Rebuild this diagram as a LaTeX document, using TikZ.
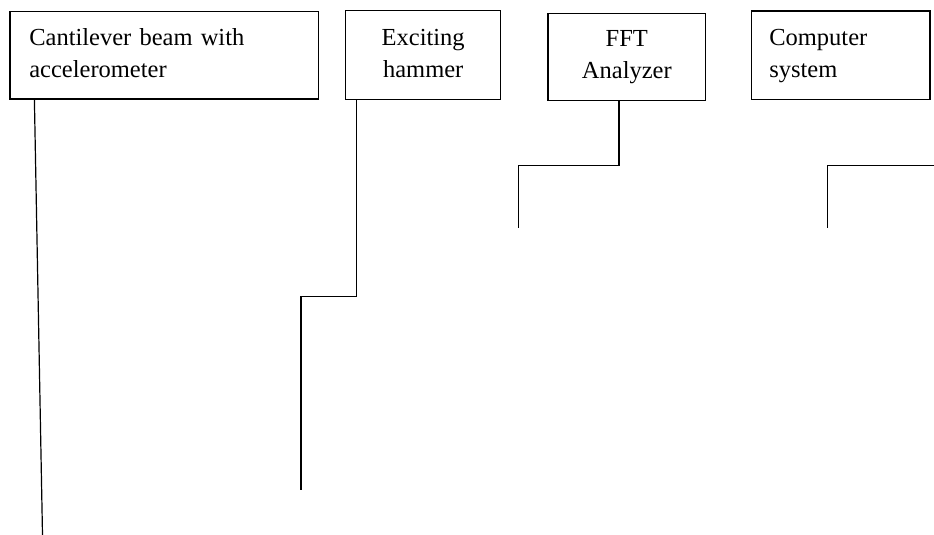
\documentclass[tikz,border=0pt]{standalone}
\usepackage{fontspec}
\setmainfont{Liberation Serif}
\newcommand\eqstrut{\vphantom{hy}}
\begin{document}
\begin{tikzpicture}[x=1pt,y=-1pt,
  boxnode/.style={draw=black,line width=1.2pt,inner ysep=0pt,
    font=\fontsize{24.5}{32}\selectfont},
  wire/.style={draw=black,line width=1.2pt}]
\useasboundingbox (0,0) rectangle (934,535);
\node[boxnode,minimum width=308.3pt,minimum height=87.3pt,inner xsep=19.3pt,
  text width=269.7pt,align=left] (b1) at (164.15,55.35)
  {\eqstrut Cantilever beam with\\\eqstrut accelerometer};
\node[boxnode,minimum width=155pt,minimum height=89pt,align=center] (b2) at (423.2,55.2)
  {\eqstrut Exciting\\\eqstrut hammer};
\node[boxnode,minimum width=157.7pt,minimum height=87.4pt,align=center] (b3) at (626.85,57)
  {\eqstrut FFT\\\eqstrut Analyzer};
\node[boxnode,minimum width=178.3pt,minimum height=88.3pt,inner xsep=17.6pt,
  text width=143.1pt,align=left] (b4) at (840.85,55.15)
  {\eqstrut Computer\\\eqstrut system};
\coordinate (e1) at (42.5,535);
\coordinate (e2) at (301,490);
\coordinate (e3) at (518.3,228);
\coordinate (s4) at (934,165.5);
\coordinate (e4) at (827.7,228);
\draw[wire] ([xshift=25pt]b1.south west) -- (e1);
\draw[wire] ([xshift=11.3pt]b2.south west) |- (e2 |- 0,296.7) -- (e2);
\draw[wire] ([xshift=71.5pt]b3.south west) |- (e3 |- 0,165.5) -- (e3);
\draw[wire] (s4) -| (e4);
\end{tikzpicture}
\end{document}
